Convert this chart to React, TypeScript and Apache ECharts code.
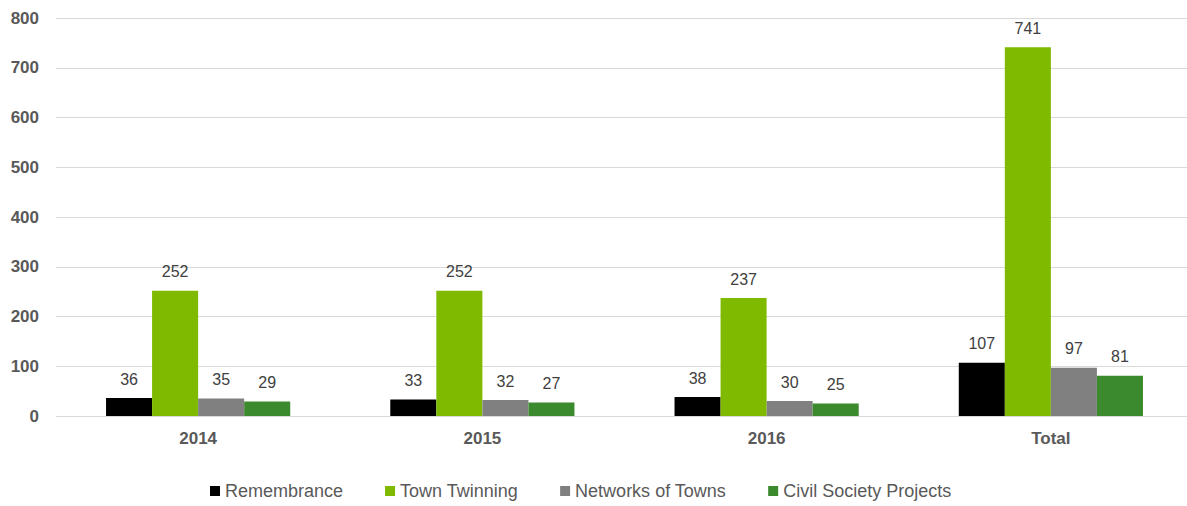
import React, { useEffect, useRef } from "react";
import * as echarts from "echarts";

const categories = ["2014", "2015", "2016", "Total"];
const remembrance = [36, 33, 38, 107];
const townTwinning = [252, 252, 237, 741];
const networksOfTowns = [35, 32, 30, 97];
const civilSociety = [29, 27, 25, 81];
const yTicks = [0, 100, 200, 300, 400, 500, 600, 700, 800];

export default function App() {
  const ref = useRef<HTMLDivElement>(null);
  useEffect(() => {
    if (!ref.current) return;
    const chart = echarts.init(ref.current, undefined, { renderer: "svg" });
    const font = "Arial, 'Liberation Sans', sans-serif";
    const label = {
      show: true,
      position: "top" as const,
      distance: 11,
      color: "#404040",
      fontSize: 16,
      fontFamily: font,
    };
    const mk = (name: string, data: number[], color: string) => ({
      name,
      type: "bar" as const,
      data,
      barGap: "0%",
      barCategoryGap: "35.2%",
      itemStyle: { color },
      label,
    });
    chart.setOption({
      animation: false,
      textStyle: { fontFamily: font },
      grid: { left: 56, right: 0, top: 18, bottom: 90, containLabel: false },
      legend: {
        bottom: 1,
        left: 205,
        itemWidth: 10,
        itemHeight: 10,
        itemGap: 42,
        icon: "rect",
        textStyle: { color: "#595959", fontSize: 18, fontFamily: font },
        data: ["Remembrance", "Town Twinning", "Networks of Towns", "Civil Society Projects"],
      },
      xAxis: {
        type: "category",
        data: categories,
        axisLine: { show: false },
        axisTick: { show: false },
        axisLabel: { color: "#595959", fontSize: 17, fontWeight: "bold", margin: 14, fontFamily: font },
      },
      yAxis: {
        type: "value",
        min: yTicks[0],
        max: yTicks[yTicks.length - 1],
        interval: 100,
        axisLine: { show: false },
        axisTick: { show: false },
        axisLabel: { color: "#595959", fontSize: 17, fontWeight: "bold", margin: 17, fontFamily: font },
        splitLine: { lineStyle: { color: "#D9D9D9", width: 1 } },
      },
      series: [
        mk("Remembrance", remembrance, "#000000"),
        mk("Town Twinning", townTwinning, "#7FBA00"),
        mk("Networks of Towns", networksOfTowns, "#808080"),
        mk("Civil Society Projects", civilSociety, "#3C8A2E"),
      ],
    });
    return () => chart.dispose();
  }, []);
  return (
    <div
      ref={ref}
      style={{ position: "fixed", left: 0, top: 0, width: 1193, height: 506, background: "#fff" }}
    />
  );
}
